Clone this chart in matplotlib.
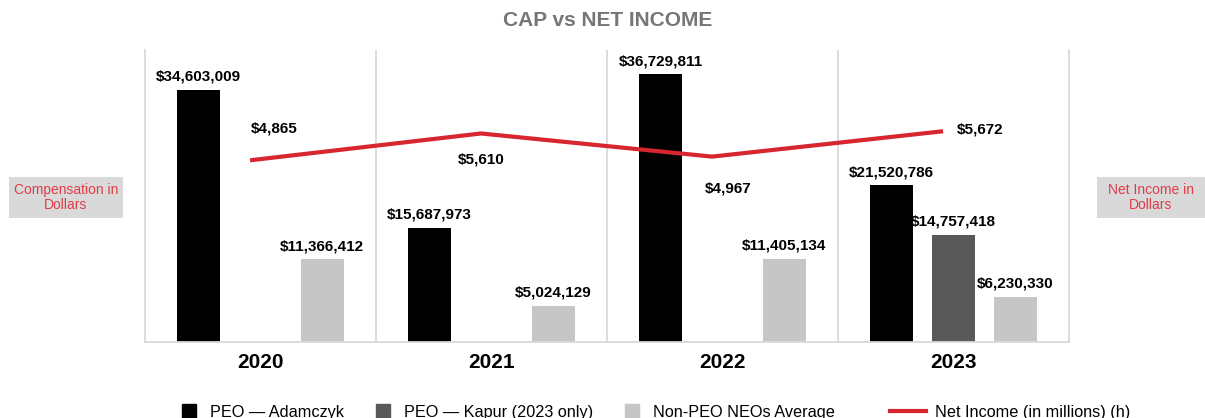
import numpy as np
import matplotlib
matplotlib.use('Agg')
from matplotlib import pyplot as plt
from matplotlib.patches import Rectangle
from matplotlib.lines import Line2D

plt.rcParams['font.family'] = ['Liberation Sans', 'DejaVu Sans']

years = ['2020', '2021', '2022', '2023']
peo_adamczyk = [34603009, 15687973, 36729811, 21520786]
peo_kapur = [np.nan, np.nan, np.nan, 14757418]
non_peo_avg = [11366412, 5024129, 11405134, 6230330]
net_income = [4865, 5610, 4967, 5672]  # millions

BLACK = '#000000'
DARK = '#595959'
LIGHT = '#c6c6c6'
RED = '#d7262f'
GRID = '#d9d9d9'
LABEL_RED = '#e03c4a'

fig = plt.figure(figsize=(12.05, 4.18), dpi=100)
ax = fig.add_axes([0.1203, 0.1811, 0.7668, 0.699])

x = np.arange(len(years))
width = 0.186
shift = 0.268

series = [(peo_adamczyk, BLACK, -shift),
          (peo_kapur, DARK, 0),
          (non_peo_avg, LIGHT, shift)]

for vals, color, off in series:
    bars = ax.bar(x + off, vals, width, color=color, zorder=2)
    for rect, v in zip(bars, vals):
        if np.isnan(v):
            continue
        ax.annotate(f'${v:,.0f}', (rect.get_x() + rect.get_width() / 2, v),
                    xytext=(0, 6), textcoords='offset pixels',
                    ha='center', va='bottom', fontsize=11, fontweight='bold')

ax.set_xlim(-0.5, 3.5)
ax.set_ylim(0, 40e6)
ax.set_yticks([])
ax.set_xticks(x)
ax.set_xticklabels(years, fontsize=15, fontweight='bold')
ax.tick_params(axis='x', length=0, pad=7.5)
for b in [0.5, 1.5, 2.5]:
    ax.axvline(b, color=GRID, lw=1.3, zorder=1)
ax.spines['top'].set_visible(False)
for s in ['left', 'right', 'bottom']:
    ax.spines[s].set_color(GRID)
    ax.spines[s].set_linewidth(1.3)

# net income on its own scale
ax2 = ax.twinx()
ax2.set_ylim(-190, 7925)
ax2.set_yticks([])
for s in ax2.spines.values():
    s.set_visible(False)
line_x = x - 0.045
ax2.plot(line_x, net_income, color=RED, lw=3, solid_capstyle='butt', zorder=3)

ni_offsets = [(24, 32), (0, -26), (16, -32), (37, 2)]
for xi, v, (dx, dy) in zip(line_x, net_income, ni_offsets):
    ax2.annotate(f'${v:,}', (xi, v), xytext=(dx, dy), textcoords='offset pixels',
                 ha='center', va='center', fontsize=11, fontweight='bold')

fig.text(0.5046, 0.952, 'CAP vs NET INCOME', ha='center', va='center',
         fontsize=15, fontweight='bold', color='#767676')

# side captions
for x0, x1, txt in [(9, 123, 'Compensation in\nDollars'),
                    (1097, 1205, 'Net Income in\nDollars')]:
    fig.add_artist(Rectangle((x0 / 1205, 1 - 218 / 418), (x1 - x0) / 1205, 41 / 418,
                             transform=fig.transFigure, facecolor='#d9d9d9',
                             edgecolor='none'))
    fig.text((x0 + x1) / 2 / 1205, 1 - 197.5 / 418, txt, ha='center', va='center',
             fontsize=10, color=LABEL_RED, linespacing=1.1)

bar_handles = [Line2D([], [], marker='s', ls='none', markersize=10, color=BLACK),
               Line2D([], [], marker='s', ls='none', markersize=10, color=DARK),
               Line2D([], [], marker='s', ls='none', markersize=10, color=LIGHT)]
bar_labels = ['PEO \u2014 Adamczyk', 'PEO \u2014 Kapur (2023 only)', 'Non-PEO NEOs Average']
fig.legend(bar_handles, bar_labels, loc='center left',
           bbox_to_anchor=(171 / 1205, 0.014), ncol=3, frameon=False,
           fontsize=11.7, handlelength=2.2, handletextpad=0.2,
           columnspacing=1.3, borderpad=0, borderaxespad=0)
fig.legend([Line2D([], [], color=RED, lw=3)], ['Net Income (in millions) (h)'],
           loc='center left', bbox_to_anchor=(890 / 1205, 0.014), frameon=False,
           fontsize=11.7, handlelength=2.2, handletextpad=0.55,
           borderpad=0, borderaxespad=0)

fig.savefig('out.png', dpi=100)
